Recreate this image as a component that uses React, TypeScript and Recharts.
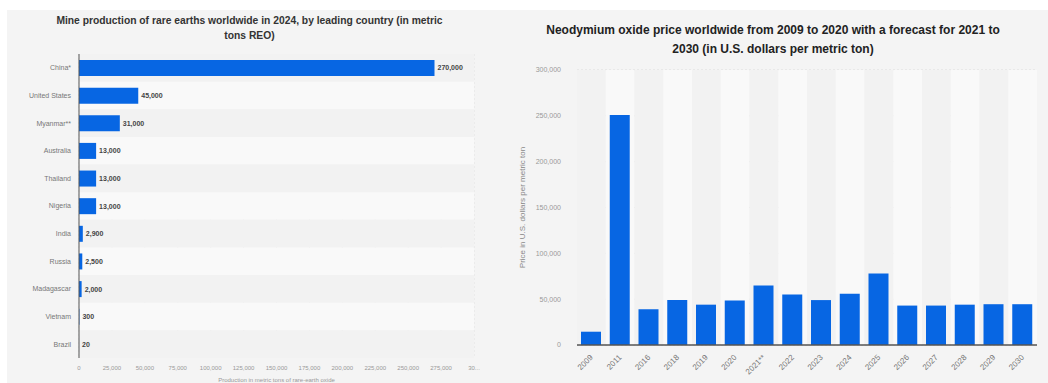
import React from "react";
import { BarChart, Bar, XAxis, YAxis, CartesianGrid, ReferenceArea, LabelList } from "recharts";

// Rare earth mine production 2024, metric tons REO
const countries = ["China*", "United States", "Myanmar**", "Australia", "Thailand", "Nigeria", "India", "Russia", "Madagascar", "Vietnam", "Brazil"];
const production = [270000, 45000, 31000, 13000, 13000, 13000, 2900, 2500, 2000, 300, 20];
const productionTicks = [0, 25000, 50000, 75000, 100000, 125000, 150000, 175000, 200000, 225000, 250000, 275000, 300000];

// Neodymium oxide price, U.S. dollars per metric ton
const years = ["2009", "2011", "2016", "2018", "2019", "2020", "2021**", "2022", "2023", "2024", "2025", "2026", "2027", "2028", "2029", "2030"];
const prices = [14500, 251000, 39000, 49000, 44000, 48500, 65000, 55000, 49000, 56000, 78000, 43000, 43000, 44000, 44500, 44500];
const priceTicks = [0, 50000, 100000, 150000, 200000, 250000, 300000];

const productionData = countries.map((c, i) => ({ country: c, value: production[i] }));
const priceData = years.map((y, i) => ({ year: y, price: prices[i] }));

const BLUE = "#0766e3";
const FONT = "'Liberation Sans', Arial, Helvetica, sans-serif";
const STRIPE_DARK = "#f2f2f2";
const STRIPE_LIGHT = "#f9f9f9";

const fmt = (v: number) => v.toLocaleString("en-US");

const CountryTick = (props: any) => {
  const { x, y, payload } = props;
  return (
    <text x={x} y={y} textAnchor="end" dy="0.35em" fontSize={7} fill="#777" fontFamily={FONT}>
      {payload.value}
    </text>
  );
};

const YearTick = (props: any) => {
  const { x, y, payload } = props;
  const ty = y + 3;
  return (
    <text
      x={x}
      y={ty}
      transform={`rotate(-45 ${x} ${ty})`}
      textAnchor="end"
      dy="0.35em"
      fontSize={8}
      fill="#777"
      fontFamily={FONT}
    >
      {payload.value}
    </text>
  );
};

const PriceAxisTitle = (props: any) => {
  const { viewBox } = props;
  const cx = viewBox.x + 0;
  const cy = viewBox.y + viewBox.height / 2;
  return (
    <text
      x={cx}
      y={cy}
      transform={`rotate(-90 ${cx} ${cy})`}
      textAnchor="middle"
      dominantBaseline="central"
      fontSize={8}
      fill="#888"
      fontFamily={FONT}
    >
      Price in U.S. dollars per metric ton
    </text>
  );
};

export default function App() {
  return (
    <div style={{ position: "absolute", left: 0, top: 0, width: 1048, height: 383, background: "#fff", overflow: "hidden", fontFamily: FONT }}>
      <div style={{ position: "absolute", left: 7, top: 10, width: 1041, height: 373, background: "#f4f4f4" }} />

      <div style={{ position: "absolute", left: 7, top: 13, width: 485, textAlign: "center", fontSize: 10.3, fontWeight: "bold", color: "#333", lineHeight: "15px" }}>
        Mine production of rare earths worldwide in 2024, by leading country (in metric
        <br />
        tons REO)
      </div>

      <div style={{ position: "absolute", left: 0, top: 0 }}>
        <BarChart
          width={492}
          height={383}
          data={productionData}
          layout="vertical"
          margin={{ top: 54, right: 18, bottom: 0, left: 7 }}
        >
          {countries.map((c, i) => (
            <ReferenceArea
              key={c}
              y1={c}
              y2={c}
              fill={i % 2 === 0 ? STRIPE_DARK : STRIPE_LIGHT}
              fillOpacity={1}
              stroke="none"
              ifOverflow="visible"
            />
          ))}
          <CartesianGrid horizontal={false} stroke="#e2e2e2" strokeDasharray="2 2" />
          <XAxis
            type="number"
            domain={[0, 300000]}
            ticks={productionTicks}
            tickFormatter={(v: number) => (v === 300000 ? "30..." : fmt(v))}
            tick={{ fontSize: 6, fill: "#999", fontFamily: FONT }}
            tickLine={false}
            axisLine={false}
            height={25}
            interval={0}
            label={{ value: "Production in metric tons of rare-earth oxide", position: "insideBottom", offset: 1, fontSize: 6, fill: "#999", fontFamily: FONT }}
          />
          <YAxis
            type="category"
            dataKey="country"
            width={72}
            tick={<CountryTick />}
            tickLine={false}
            axisLine={{ stroke: "#555", strokeWidth: 1 }}
            interval={0}
          />
          <Bar dataKey="value" fill={BLUE} barSize={16} isAnimationActive={false}>
            <LabelList
              dataKey="value"
              position="right"
              offset={3}
              formatter={(v: any) => fmt(Number(v))}
              style={{ fontSize: 7, fontWeight: "bold", fill: "#444", fontFamily: FONT }}
            />
          </Bar>
        </BarChart>
      </div>

      <div style={{ position: "absolute", left: 519, top: 21, width: 508, textAlign: "center", fontSize: 12, fontWeight: "bold", color: "#222", lineHeight: "19px" }}>
        Neodymium oxide price worldwide from 2009 to 2020 with a forecast for 2021 to
        <br />
        2030 (in U.S. dollars per metric ton)
      </div>

      <div style={{ position: "absolute", left: 510, top: 0 }}>
        <BarChart
          width={538}
          height={383}
          data={priceData}
          margin={{ top: 70, right: 11, bottom: 0, left: 12 }}
        >
          {years.map((y, i) => (
            <ReferenceArea
              key={y}
              x1={y}
              x2={y}
              fill={i % 2 === 0 ? STRIPE_DARK : STRIPE_LIGHT}
              fillOpacity={1}
              stroke="none"
              ifOverflow="visible"
            />
          ))}
          <CartesianGrid vertical={false} stroke="#dcdcdc" strokeDasharray="2 2" />
          <XAxis
            dataKey="year"
            interval={0}
            tick={<YearTick />}
            tickLine={false}
            axisLine={{ stroke: "#555", strokeWidth: 1.5 }}
            height={38}
          />
          <YAxis
            type="number"
            domain={[0, 300000]}
            ticks={priceTicks}
            tickFormatter={fmt}
            tick={{ fontSize: 7, fill: "#999", fontFamily: FONT }}
            tickLine={false}
            axisLine={false}
            tickMargin={10}
            width={55}
            label={{ content: <PriceAxisTitle /> } as any}
          />
          <Bar dataKey="price" fill={BLUE} barSize={20} isAnimationActive={false} />
        </BarChart>
      </div>
    </div>
  );
}
